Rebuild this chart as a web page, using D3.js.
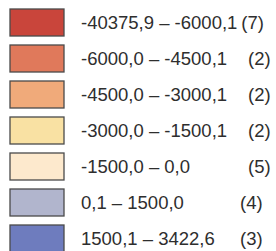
<!DOCTYPE html>
<html>
<head>
<meta charset="utf-8">
<script src="https://cdn.jsdelivr.net/npm/d3@7"></script>
<style>
  html, body { margin: 0; padding: 0; background: #fff; }
  svg { display: block; }
</style>
</head>
<body>
<svg id="legend" width="276" height="251"></svg>
<script>
// class limits, one row per class
var lowerBounds = ["-40375,9", "-6000,0", "-4500,0", "-3000,0", "-1500,0", "0,1", "1500,1"];
var upperBounds = ["-6000,1", "-4500,1", "-3000,1", "-1500,1", "0,0", "1500,0", "3422,6"];
var counts = [7, 2, 2, 2, 5, 4, 3];
var classColors = ["#c9453b", "#e0795b", "#f0aa7a", "#f9e1a3", "#fde9cd", "#b1b5cd", "#6e7cbe"];

var svg = d3.select('#legend');

var rowScale = d3.scalePoint()
    .domain(d3.range(counts.length))
    .range([9, 225]);

var swatchW = 54, swatchH = 27;

var rows = svg.selectAll('g.row')
    .data(counts)
    .enter().append('g')
    .attr('class', 'row')
    .attr('transform', function(d, i){ return 'translate(0,' + rowScale(i) + ')'; });

rows.append('rect')
    .attr('x', 10)
    .attr('y', 0)
    .attr('width', swatchW)
    .attr('height', swatchH)
    .attr('fill', function(d, i){ return classColors[i]; })
    .attr('stroke', '#4a4a4a')
    .attr('stroke-width', 1.3);

var labels = rows.append('text')
    .attr('x', 81)
    .attr('y', 20)
    .style('font-family', 'Liberation Sans, Arial, sans-serif')
    .style('font-size', '18.5px')
    .style('fill', '#2e2e2e')
    .text(function(d, i){ return lowerBounds[i] + ' \u2013 ' + upperBounds[i]; });

// counts sit on a tab stop, or just after the label when it runs long
rows.append('text')
    .attr('x', function(d, i){
      var end = 81 + labels.nodes()[i].getComputedTextLength();
      if(end > 232) return end + 4;
      return lowerBounds[i].charAt(0) === '-' ? 248 : 240;
    })
    .attr('y', 20)
    .style('font-family', 'Liberation Sans, Arial, sans-serif')
    .style('font-size', '18.5px')
    .style('fill', '#2e2e2e')
    .text(function(d){ return '(' + d + ')'; });
</script>
</body>
</html>
